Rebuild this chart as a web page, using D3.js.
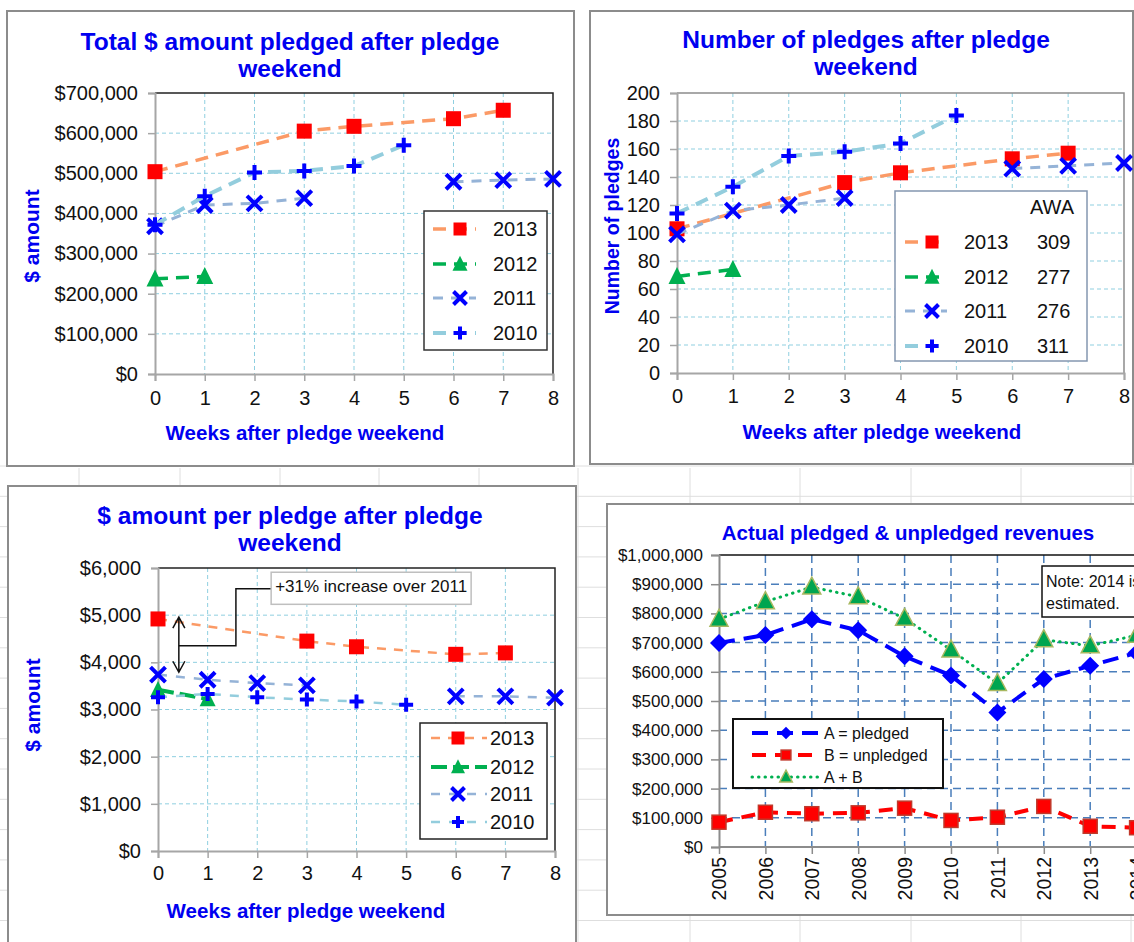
<!DOCTYPE html>
<html>
<head>
<meta charset="UTF-8">
<title>index</title>
<script src="https://d3js.org/d3.v7.min.js"></script>
<style>
  body { margin: 0; background: #fff; }
  svg { display: block; font-family: "Liberation Sans", Arial, sans-serif; }
</style>
</head>
<body>
<script>
// ---------------- data ----------------
var weeks = [0, 1, 2, 3, 4, 5, 6, 7, 8];
var seriesNames = ["2013", "2012", "2011", "2010"];

// total $ pledged, by week after pledge weekend
var total2013 = [504000, null, null, 605000, 617000, null, 636000, 657000, null];
var total2012 = [237000, 243000, null, null, null, null, null, null, null];
var total2011 = [368000, 421000, 425000, 438000, null, null, 479000, 483000, 486000];
var total2010 = [372000, 443000, 502000, 506000, 518000, 570000, null, null, null];
var totalTicks = [0, 100000, 200000, 300000, 400000, 500000, 600000, 700000];

// number of pledges
var count2013 = [103, null, null, 136, 143, null, 153, 157, null];
var count2012 = [69, 74, null, null, null, null, null, null, null];
var count2011 = [99, 116, 120, 125, null, null, 146, 148, 150];
var count2010 = [114, 133, 155, 158, 164, 184, null, null, null];
var countTicks = [0, 20, 40, 60, 80, 100, 120, 140, 160, 180, 200];
var awa = [309, 277, 276, 311];

// $ per pledge
var perPledge2013 = [4920, null, null, 4450, 4330, null, 4170, 4200, null];
var perPledge2012 = [3420, 3220, null, null, null, null, null, null, null];
var perPledge2011 = [3740, 3630, 3560, 3510, null, null, 3280, 3280, 3250];
var perPledge2010 = [3260, 3330, 3260, 3210, 3170, 3100, null, null, null];
var perPledgeTicks = [0, 1000, 2000, 3000, 4000, 5000, 6000];

// actual revenues by year
var revYears = [2005, 2006, 2007, 2008, 2009, 2010, 2011, 2012, 2013, 2014];
var pledged = [699000, 726000, 780000, 742000, 653000, 587000, 461000, 575000, 621000, 665000];
var unpledged = [85000, 119000, 114000, 117000, 133000, 91000, 102000, 139000, 71000, 66000];
var pledgedPlusUnpledged = [780000, 840000, 890000, 857000, 783000, 675000, 560000, 710000, 689000, 725000];
var revTicks = [0, 100000, 200000, 300000, 400000, 500000, 600000, 700000, 800000, 900000, 1000000];
var revLabels = ["A = pledged", "B = unpledged", "A + B"];

// ---------------- page ----------------
var W = 1134, H = 942;
var svg = d3.select("body").append("svg").attr("width", W).attr("height", H);
var TITLE = "#0000f0";

// faint spreadsheet cells behind the lower charts
var cells = svg.append("g").attr("stroke", "#dedede").attr("stroke-width", 1);
d3.range(466, H, 30.3).forEach(function(y) {
  cells.append("line").attr("x1", 0).attr("x2", W).attr("y1", y).attr("y2", y);
});
[79, 180, 280, 379, 479, 578, 690, 800, 911, 1021, 1131].forEach(function(x) {
  cells.append("line").attr("x1", x).attr("x2", x).attr("y1", 468).attr("y2", H);
});

function marker(g, type, cx, cy, s, color) {
  var h = s / 2;
  if (type === "square") {
    g.append("rect").attr("x", cx - h).attr("y", cy - h).attr("width", s).attr("height", s).attr("fill", color);
  } else if (type === "triangle") {
    g.append("path").attr("d", "M" + cx + "," + (cy - s * 0.55) + "L" + (cx + h) + "," + (cy + s * 0.45) + "L" + (cx - h) + "," + (cy + s * 0.45) + "Z").attr("fill", color);
  } else if (type === "x") {
    g.append("path").attr("d", "M" + (cx - h) + "," + (cy - h) + "L" + (cx + h) + "," + (cy + h) + "M" + (cx - h) + "," + (cy + h) + "L" + (cx + h) + "," + (cy - h))
      .attr("stroke", color).attr("stroke-width", 4).attr("fill", "none");
  } else if (type === "plus") {
    g.append("path").attr("d", "M" + (cx - h) + "," + cy + "L" + (cx + h) + "," + cy + "M" + cx + "," + (cy - h) + "L" + cx + "," + (cy + h))
      .attr("stroke", color).attr("stroke-width", 4).attr("fill", "none");
  }
}

function frame(x, y, w, h) {
  svg.append("rect").attr("x", x).attr("y", y).attr("width", w).attr("height", h)
    .attr("fill", "#fff").attr("stroke", "#8c8c8c").attr("stroke-width", 2);
}

function weekPanel(o) {
  frame(o.frame[0], o.frame[1], o.frame[2], o.frame[3]);
  var g = svg.append("g");
  var x = d3.scaleLinear().domain([0, 8]).range([o.left, o.right]);
  var y = d3.scaleLinear().domain([0, o.ticks[o.ticks.length - 1]]).range([o.bottom, o.top]);

  // grid
  g.append("g").selectAll("line").data(o.ticks.slice(1, -1)).join("line")
    .attr("x1", o.left).attr("x2", o.right).attr("y1", d => y(d)).attr("y2", d => y(d))
    .attr("stroke", "#8fcfe0").attr("stroke-width", 1).attr("stroke-dasharray", "4,3");
  g.append("g").selectAll("line").data(weeks.slice(1, -1)).join("line")
    .attr("y1", o.top).attr("y2", o.bottom).attr("x1", d => x(d)).attr("x2", d => x(d))
    .attr("stroke", "#8fcfe0").attr("stroke-width", 1).attr("stroke-dasharray", "4,3");
  g.append("path").attr("d", "M" + o.left + "," + o.top + "H" + o.right + "V" + o.bottom)
    .attr("fill", "none").attr("stroke", o.borderColor).attr("stroke-width", 1.5);

  // axes
  var ya = g.append("g").attr("transform", "translate(" + o.left + ",0)")
    .call(d3.axisLeft(y).tickValues(o.ticks).tickFormat(o.fmt).tickSize(7).tickPadding(10));
  var xa = g.append("g").attr("transform", "translate(0," + o.bottom + ")")
    .call(d3.axisBottom(x).tickValues(weeks).tickFormat(d3.format("d")).tickSize(7).tickPadding(o.xPad));
  [ya, xa].forEach(function(a) {
    a.select(".domain").attr("stroke", "#a6a6a6").attr("stroke-width", 2);
    a.selectAll(".tick line").attr("stroke", "#a6a6a6").attr("stroke-width", 1.5);
    a.selectAll("text").attr("font-size", 20).attr("fill", "#111").attr("font-family", "Liberation Sans, Arial, sans-serif");
  });

  // titles
  o.title.forEach(function(t, i) {
    g.append("text").attr("x", o.titleX).attr("y", o.titleY + i * 27).attr("text-anchor", "middle")
      .attr("font-size", 24.5).attr("font-weight", "bold").attr("fill", TITLE).text(t);
  });
  g.append("text").attr("x", o.xTitle[0]).attr("y", o.xTitle[1]).attr("text-anchor", "middle")
    .attr("font-size", 20.5).attr("font-weight", "bold").attr("fill", TITLE).text("Weeks after pledge weekend");
  g.append("text").attr("transform", "translate(" + o.yTitle[0] + "," + o.yTitle[1] + ") rotate(-90)")
    .attr("text-anchor", "middle").attr("dy", "0.35em")
    .attr("font-size", o.yTitle[3]).attr("font-weight", "bold").attr("fill", TITLE).text(o.yTitle[2]);

  // series
  o.series.forEach(function(vals, i) {
    var st = o.styles[i];
    var pts = weeks.map(function(w, j) { return [w, vals[j]]; });
    var line = d3.line().x(d => x(d[0])).y(d => y(d[1]));
    var d;
    if (st.bridge) d = line(pts.filter(p => p[1] != null));
    else d = line.defined(p => p[1] != null)(pts);
    var sg = g.append("g");
    sg.append("path").attr("d", d).attr("fill", "none").attr("stroke", st.color)
      .attr("stroke-width", st.width).attr("stroke-dasharray", st.dash);
    pts.filter(p => p[1] != null).forEach(function(p) {
      marker(sg, st.marker, x(p[0]), y(p[1]), st.size, st.mcolor);
    });
  });

  // legend
  var L = o.legend;
  g.append("rect").attr("x", L.box[0]).attr("y", L.box[1]).attr("width", L.box[2]).attr("height", L.box[3])
    .attr("fill", "#fff").attr("stroke", L.stroke).attr("stroke-width", 1.5);
  if (L.header) {
    g.append("text").attr("x", L.header[0]).attr("y", L.header[1]).attr("font-size", 20).attr("fill", "#111").text(L.header[2]);
  }
  seriesNames.forEach(function(name, i) {
    var st = o.styles[i], ry = L.rows[i];
    g.append("line").attr("x1", L.line[0]).attr("x2", L.line[1]).attr("y1", ry).attr("y2", ry)
      .attr("stroke", st.color).attr("stroke-width", st.width).attr("stroke-dasharray", L.dash || st.dash);
    marker(g, st.marker, L.mark, ry, st.size - 2, st.mcolor);
    g.append("text").attr("x", L.text).attr("y", ry + 7).attr("font-size", 20).attr("fill", "#111").text(name);
    if (L.extra) g.append("text").attr("x", L.extraX).attr("y", ry + 7).attr("font-size", 20).attr("fill", "#111").text(L.extra[i]);
  });
  return { g: g, x: x, y: y };
}

var dollar = d3.format("$,");

var styles1 = [
  { color: "#fb9a66", width: 3.5, dash: "13,8", marker: "square", mcolor: "#ff0000", size: 15, bridge: true },
  { color: "#00b050", width: 3.5, dash: "13,8", marker: "triangle", mcolor: "#00b050", size: 17 },
  { color: "#95b3d7", width: 3, dash: "10,8", marker: "x", mcolor: "#0000ff", size: 15 },
  { color: "#93cddd", width: 4, dash: "13,8", marker: "plus", mcolor: "#0000ff", size: 15 }
];

weekPanel({
  frame: [7, 11, 567, 455], left: 155, right: 553, top: 93, bottom: 374,
  ticks: totalTicks, fmt: dollar, xPad: 10, borderColor: "#222",
  title: ["Total $ amount pledged after pledge", "weekend"], titleX: 290, titleY: 50,
  xTitle: [305, 440], yTitle: [32, 236, "$ amount", 21],
  series: [total2013, total2012, total2011, total2010], styles: styles1,
  legend: { box: [424, 211, 123, 139], stroke: "#333", rows: [229, 264, 298, 333], line: [433, 476], mark: 460, text: 493 }
});

weekPanel({
  frame: [590, 11, 543, 453], left: 677, right: 1124, top: 93, bottom: 373,
  ticks: countTicks, fmt: d3.format("d"), xPad: 9, borderColor: "#8c8c8c",
  title: ["Number of pledges after pledge", "weekend"], titleX: 866, titleY: 48,
  xTitle: [882, 439], yTitle: [612, 226, "Number of pledges", 19.5],
  series: [count2013, count2012, count2011, count2010], styles: styles1,
  legend: { box: [895, 191, 192, 170], stroke: "#8497b0", rows: [242, 277, 311, 346], line: [905, 947], mark: 932, text: 964,
            header: [1030, 214, "AWA"], extra: awa, extraX: 1037 }
});

var styles3 = [
  { color: "#fb9a66", width: 2.5, dash: "9,8", marker: "square", mcolor: "#ff0000", size: 15, bridge: true },
  { color: "#00b050", width: 4, dash: "16,6", marker: "triangle", mcolor: "#00b050", size: 16 },
  { color: "#95b3d7", width: 2.5, dash: "9,9", marker: "x", mcolor: "#0000ff", size: 15 },
  { color: "#93cddd", width: 2.5, dash: "9,9", marker: "plus", mcolor: "#0000ff", size: 14 }
];

var p3 = weekPanel({
  frame: [8, 486, 568, 470], left: 158, right: 555, top: 568, bottom: 851,
  ticks: perPledgeTicks, fmt: dollar, xPad: 8, borderColor: "#222",
  title: ["$ amount per pledge after pledge", "weekend"], titleX: 290, titleY: 524,
  xTitle: [306, 918], yTitle: [33, 705, "$ amount", 21],
  series: [perPledge2013, perPledge2012, perPledge2011, perPledge2010], styles: styles3,
  legend: { box: [420, 723, 127, 116], stroke: "#222", rows: [738, 767, 794, 822], line: [431, 487], mark: 458, text: 490 }
});

// annotation: +31% over 2011
(function() {
  var g = p3.g, x = p3.x, y = p3.y;
  var ax = x(0.42), top = y(4960), bot = y(3790);
  g.append("path").attr("d", "M" + ax + "," + top + "V" + bot +
      "M" + (ax - 6) + "," + (top + 11) + "L" + ax + "," + top + "L" + (ax + 6) + "," + (top + 11) +
      "M" + (ax - 6) + "," + (bot - 11) + "L" + ax + "," + bot + "L" + (ax + 6) + "," + (bot - 11))
    .attr("fill", "none").attr("stroke", "#111").attr("stroke-width", 1.5);
  var bx0 = x(2.28), bx1 = x(6.31), by0 = y(5910), by1 = y(5230);
  g.append("path").attr("d", "M" + ax + "," + y(4350) + "H" + x(1.57) + "V" + y(5560) + "H" + bx0)
    .attr("fill", "none").attr("stroke", "#111").attr("stroke-width", 1.5);
  g.append("rect").attr("x", bx0).attr("y", by0).attr("width", bx1 - bx0).attr("height", by1 - by0)
    .attr("fill", "#fff").attr("stroke", "#bfbfbf").attr("stroke-width", 1.5);
  g.append("text").attr("x", bx0 + 4).attr("y", by0 + 20).attr("font-size", 17).attr("fill", "#111")
    .text("+31% increase  over 2011");
})();

// ---------------- revenues panel ----------------
(function() {
  frame(607, 504, 540, 411);
  var g = svg.append("g");
  var x = d3.scaleLinear().domain([2005, 2014]).range([719, 1136.6]);
  var y = d3.scaleLinear().domain([0, 1000000]).range([847, 555]);
  var right = W + 5;

  g.append("g").selectAll("line").data(revTicks.slice(1, -1)).join("line")
    .attr("x1", x(2005)).attr("x2", right).attr("y1", d => y(d)).attr("y2", d => y(d))
    .attr("stroke", "#4a7ebb").attr("stroke-width", 1.5).attr("stroke-dasharray", "8,5");
  g.append("g").selectAll("line").data(revYears.slice(1)).join("line")
    .attr("y1", y(1000000)).attr("y2", y(0)).attr("x1", d => x(d)).attr("x2", d => x(d))
    .attr("stroke", "#4a7ebb").attr("stroke-width", 1.5).attr("stroke-dasharray", "8,5");
  g.append("line").attr("x1", x(2005)).attr("x2", right).attr("y1", y(1000000)).attr("y2", y(1000000))
    .attr("stroke", "#111").attr("stroke-width", 1.5);

  var ya = g.append("g").attr("transform", "translate(" + x(2005) + ",0)")
    .call(d3.axisLeft(y).tickValues(revTicks).tickFormat(dollar).tickSize(8).tickPadding(8));
  var xa = g.append("g").attr("transform", "translate(0," + y(0) + ")")
    .call(d3.axisBottom(x).tickValues(revYears).tickFormat(d3.format("d")).tickSize(7));
  xa.select(".domain").attr("d", "M" + x(2005) + ",0H" + right);
  [ya, xa].forEach(function(a) {
    a.select(".domain").attr("stroke", "#8c8c8c").attr("stroke-width", 2);
    a.selectAll(".tick line").attr("stroke", "#8c8c8c").attr("stroke-width", 1.5);
    a.selectAll("text").attr("font-family", "Liberation Sans, Arial, sans-serif").attr("fill", "#111");
  });
  ya.selectAll("text").attr("font-size", 17);
  xa.selectAll("text").attr("font-size", 19.5).attr("transform", "rotate(-90)")
    .attr("x", -10).attr("y", 0).attr("dy", "0.35em").attr("text-anchor", "end");

  g.append("text").attr("x", 908).attr("y", 540).attr("text-anchor", "middle")
    .attr("font-size", 20.5).attr("font-weight", "bold").attr("fill", TITLE)
    .text("Actual pledged & unpledged revenues");

  var revStyles = [
    { color: "#0000ff", width: 4, dash: "16,9", cap: "butt" },
    { color: "#ff0000", width: 4, dash: "14,9", cap: "butt" },
    { color: "#00b050", width: 3, dash: "0.5,6", cap: "round" }
  ];
  function revMarker(gg, i, cx, cy, k) {
    if (i === 0) {
      gg.append("path").attr("d", "M" + cx + "," + (cy - 9 * k) + "L" + (cx + 9 * k) + "," + cy + "L" + cx + "," + (cy + 9 * k) + "L" + (cx - 9 * k) + "," + cy + "Z")
        .attr("fill", "#0000ff");
    } else if (i === 1) {
      gg.append("rect").attr("x", cx - 7 * k).attr("y", cy - 7 * k).attr("width", 14 * k).attr("height", 14 * k)
        .attr("fill", "#ff0000").attr("stroke", "#c0392b").attr("stroke-width", 1.5);
    } else {
      gg.append("path").attr("d", "M" + cx + "," + (cy - 10 * k) + "L" + (cx + 9 * k) + "," + (cy + 7 * k) + "L" + (cx - 9 * k) + "," + (cy + 7 * k) + "Z")
        .attr("fill", "#00a550").attr("stroke", "#a8b860").attr("stroke-width", 1.5);
    }
  }
  [pledged, unpledged, pledgedPlusUnpledged].forEach(function(vals, i) {
    var st = revStyles[i];
    var sg = g.append("g");
    sg.append("path").datum(vals)
      .attr("d", d3.line().x((d, j) => x(revYears[j])).y(d => y(d)))
      .attr("fill", "none").attr("stroke", st.color).attr("stroke-width", st.width)
      .attr("stroke-dasharray", st.dash).attr("stroke-linecap", st.cap);
    vals.forEach(function(v, j) { revMarker(sg, i, x(revYears[j]), y(v), 1); });
  });

  // legend
  g.append("rect").attr("x", 733).attr("y", 719).attr("width", 210).attr("height", 69)
    .attr("fill", "#fff").attr("stroke", "#111").attr("stroke-width", 2);
  [733, 755, 777].forEach(function(ry, i) {
    var st = revStyles[i];
    g.append("line").attr("x1", 752).attr("x2", 818).attr("y1", ry).attr("y2", ry)
      .attr("stroke", st.color).attr("stroke-width", st.width).attr("stroke-dasharray", st.dash)
      .attr("stroke-linecap", st.cap);
    revMarker(g, i, 786, ry, 0.7);
    g.append("text").attr("x", 824).attr("y", ry + 6).attr("font-size", 16).attr("fill", "#111").text(revLabels[i]);
  });

  // note
  g.append("rect").attr("x", 1042).attr("y", 566).attr("width", 110).attr("height", 51)
    .attr("fill", "#fff").attr("stroke", "#111").attr("stroke-width", 1.5);
  g.append("text").attr("x", 1046).attr("y", 587).attr("font-size", 16).attr("fill", "#111").text("Note: 2014 is");
  g.append("text").attr("x", 1046).attr("y", 609).attr("font-size", 16).attr("fill", "#111").text("estimated.");
})();
</script>
</body>
</html>
